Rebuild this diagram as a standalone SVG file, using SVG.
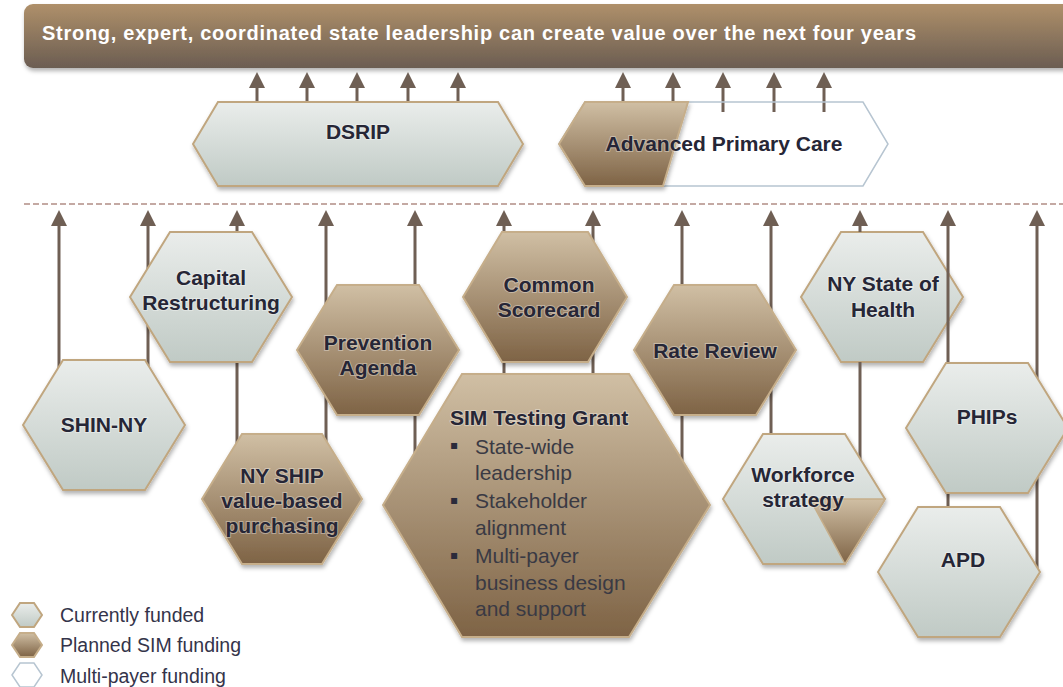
<svg xmlns="http://www.w3.org/2000/svg" width="1063" height="687" viewBox="0 0 1063 687">
<defs>
<linearGradient id="gBan" x1="0" y1="0" x2="0" y2="1"><stop offset="0" stop-color="#af906a"/><stop offset="1" stop-color="#6b5d52"/></linearGradient>
<linearGradient id="gCur" x1="0" y1="0" x2="0" y2="1"><stop offset="0" stop-color="#eaedeb"/><stop offset="1" stop-color="#c0cac5"/></linearGradient>
<linearGradient id="gSim" x1="0" y1="0" x2="0" y2="1"><stop offset="0" stop-color="#d0bfa4"/><stop offset="1" stop-color="#7e6345"/></linearGradient>
<filter id="sh" x="-10%" y="-10%" width="125%" height="130%"><feDropShadow dx="1" dy="3" stdDeviation="2" flood-color="#000" flood-opacity="0.3"/></filter>
<marker id="ah" viewBox="0 0 16 16" refX="2" refY="8" markerWidth="16" markerHeight="16" markerUnits="userSpaceOnUse" orient="auto"><path d="M0,0 L16,8 L0,16 Z" fill="#6f5f54"/></marker>
<style>
.cur{fill:url(#gCur);stroke:#c0a67f;stroke-width:2;filter:url(#sh)}
.sim{fill:url(#gSim);stroke:#c6ae8a;stroke-width:2;filter:url(#sh)}
.mp{fill:none;stroke:#b7c5d1;stroke-width:1.5}
.lbl{font-family:"Liberation Sans",Arial,sans-serif;font-weight:bold;font-size:21px;fill:#262636;text-anchor:middle;stroke:rgba(255,255,255,0.35);stroke-width:2;paint-order:stroke}
.body{font-family:"Liberation Sans",Arial,sans-serif;font-size:21px;fill:#3a3a44}
.bul{font-family:"DejaVu Sans",sans-serif;font-size:12px;fill:#2a2a3a}
.leg{font-family:"Liberation Sans",Arial,sans-serif;font-size:19.5px;fill:#34344a}
.arr{stroke:#6f5f54;stroke-width:3;fill:none;marker-end:url(#ah)}
.seg{stroke:#6f5f54;stroke-width:3;fill:none}
</style>
</defs>
<rect width="1063" height="687" fill="#ffffff"/>

<g id="banner">
<rect x="24" y="4" width="1070" height="64" rx="9" fill="url(#gBan)" filter="url(#sh)"/>
<text x="42" y="40" font-family="Liberation Sans, Arial, sans-serif" font-weight="bold" font-size="20" fill="#ffffff" textLength="874" lengthAdjust="spacing">Strong, expert, coordinated state leadership can create value over the next four years</text>
</g>

<line id="divider" x1="24" y1="204" x2="1063" y2="204" stroke="#8a5548" stroke-width="1.2" stroke-dasharray="6,3"/>

<g id="node-nysoh">
<polygon class="cur" points="801,297 841,232 923,232 963,297 923,362 841,362"/>
<text class="lbl" x="883" y="291">NY State of</text>
<text class="lbl" x="883" y="317">Health</text>
</g>

<g id="connectors">
<line class="arr" x1="257" y1="102" x2="257" y2="86"/>
<line class="arr" x1="307" y1="102" x2="307" y2="86"/>
<line class="arr" x1="357" y1="102" x2="357" y2="86"/>
<line class="arr" x1="408" y1="102" x2="408" y2="86"/>
<line class="arr" x1="458" y1="102" x2="458" y2="86"/>
<line class="arr" x1="623" y1="112" x2="623" y2="86"/>
<line class="arr" x1="673" y1="112" x2="673" y2="86"/>
<line class="arr" x1="723" y1="112" x2="723" y2="86"/>
<line class="arr" x1="774" y1="112" x2="774" y2="86"/>
<line class="arr" x1="824" y1="112" x2="824" y2="86"/>

<line class="arr" x1="59" y1="425" x2="59" y2="224"/>
<line class="arr" x1="148" y1="425" x2="148" y2="224"/>
<line class="arr" x1="237" y1="499" x2="237" y2="224"/>
<line class="arr" x1="326" y1="499" x2="326" y2="224"/>
<line class="arr" x1="415" y1="505" x2="415" y2="224"/>
<line class="arr" x1="504" y1="505" x2="504" y2="224"/>
<line class="arr" x1="593" y1="505" x2="593" y2="224"/>
<line class="arr" x1="682" y1="505" x2="682" y2="224"/>
<line class="arr" x1="771" y1="499" x2="771" y2="224"/>
<line class="seg" x1="860" y1="499" x2="860" y2="362"/>
<line class="arr" x1="860" y1="232" x2="860" y2="224"/>
<line class="arr" x1="948" y1="572" x2="948" y2="224"/>
<line class="arr" x1="1037" y1="572" x2="1037" y2="224"/>
</g>

<g id="node-dsrip">
<polygon class="cur" points="193,144 218,102 498,102 523,144 498,186 218,186"/>
<text class="lbl" x="358" y="139">DSRIP</text>
</g>

<g id="node-apc">
<polygon class="mp" points="559,144 585,102 863,102 888,144 863,186 585,186"/>
<polygon class="sim" points="559,144 585,102 688,102 663,186 585,186"/>
<text class="lbl" x="724" y="151">Advanced Primary Care</text>
</g>

<g id="node-shinny">
<polygon class="cur" points="23,425 63,360 145,360 185,425 145,490 63,490"/>
<text class="lbl" x="104" y="432">SHIN-NY</text>
</g>

<g id="node-capital">
<polygon class="cur" points="130,297 170,232 252,232 292,297 252,362 170,362"/>
<text class="lbl" x="211" y="285">Capital</text>
<text class="lbl" x="211" y="310">Restructuring</text>
</g>

<g id="node-prevention">
<polygon class="sim" points="297,350 337,285 419,285 459,350 419,415 337,415"/>
<text class="lbl" x="378" y="350">Prevention</text>
<text class="lbl" x="378" y="375">Agenda</text>
</g>

<g id="node-nyship">
<polygon class="sim" points="202,499 242,434 322,434 362,499 322,564 242,564"/>
<text class="lbl" x="282" y="483">NY SHIP</text>
<text class="lbl" x="282" y="508">value-based</text>
<text class="lbl" x="282" y="533">purchasing</text>
</g>

<g id="node-scorecard">
<polygon class="sim" points="463,297 502,232 588,232 627,297 588,362 502,362"/>
<text class="lbl" x="549" y="292">Common</text>
<text class="lbl" x="549" y="317">Scorecard</text>
</g>

<g id="node-sim">
<polygon class="sim" points="383,505 462,374 629,374 710,505 629,637 462,637"/>
<text class="lbl" x="450" y="425" style="text-anchor:start">SIM Testing Grant</text>
<text class="bul" x="450" y="449">▪</text>
<text class="body" x="475" y="454">State-wide</text>
<text class="body" x="475" y="480">leadership</text>
<text class="bul" x="450" y="504">▪</text>
<text class="body" x="475" y="508">Stakeholder</text>
<text class="body" x="475" y="535">alignment</text>
<text class="bul" x="450" y="559">▪</text>
<text class="body" x="475" y="563">Multi-payer</text>
<text class="body" x="475" y="590">business design</text>
<text class="body" x="475" y="616">and support</text>
</g>

<g id="node-rate">
<polygon class="sim" points="634,350 674,285 756,285 796,350 756,415 674,415"/>
<text class="lbl" x="715" y="358">Rate Review</text>
</g>

<g id="node-workforce">
<polygon class="cur" points="723,499 763,434 845,434 885,499 845,564 763,564"/>
<polygon points="810,499 885,499 845,564" fill="url(#gSim)" stroke="#c6ae8a" stroke-width="1.5"/>
<text class="lbl" x="803" y="482">Workforce</text>
<text class="lbl" x="803" y="507">strategy</text>
</g>

<g id="node-phips">
<polygon class="cur" points="906,428 946,363 1028,363 1068,428 1028,493 946,493"/>
<text class="lbl" x="987" y="424">PHIPs</text>
</g>

<g id="node-apd">
<polygon class="cur" points="878,572 918,507 1000,507 1040,572 1000,637 918,637"/>
<text class="lbl" x="963" y="567">APD</text>
</g>

<g id="legend">
<polygon class="cur" points="12,615 20,603 34,603 42,615 34,627 20,627" style="filter:none"/>
<text class="leg" x="60" y="622">Currently funded</text>
<polygon class="sim" points="12,645 20,633 34,633 42,645 34,657 20,657" style="filter:none"/>
<text class="leg" x="60" y="652">Planned SIM funding</text>
<polygon class="mp" points="12,675 20,663 34,663 42,675 34,687 20,687"/>
<text class="leg" x="60" y="683">Multi-payer funding</text>
</g>
</svg>
